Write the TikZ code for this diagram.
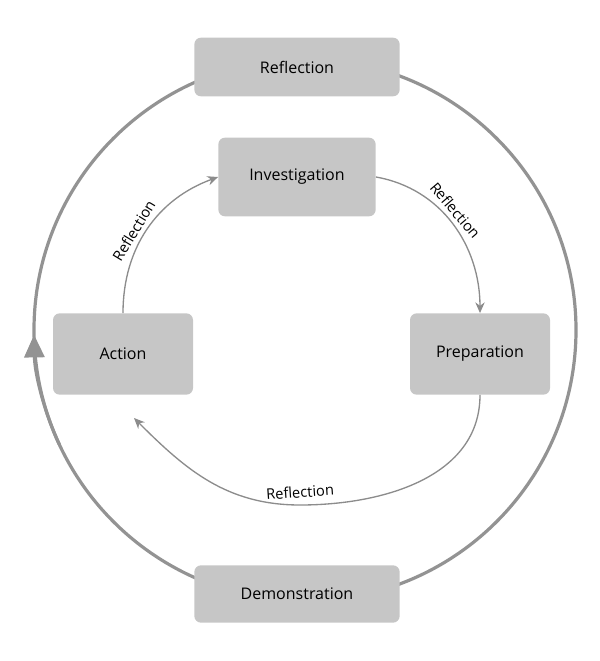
\documentclass[tikz,border=0pt]{standalone}
\usepackage{fontspec}
\setmainfont{Open Sans}
\usetikzlibrary{arrows.meta,calc}
\tikzset{>={Stealth[width=7pt,length=8pt]}}
\tikzset{
  stage/.style={draw=none, fill=gray!45, rounded corners=5pt, font=\fontsize{12}{14}\selectfont},
  outer/.style={draw=gray!85, line width=2.4pt},
  inner/.style={draw=gray!90, line width=1pt, ->},
  lbl/.style={font=\fontsize{11}{13}\selectfont}
}
\begin{document}
\begin{tikzpicture}[x=0.75pt,y=0.75pt]
  \useasboundingbox (0,0) rectangle (600,-661);

  \coordinate (ctr) at (305,-330);
  % outer cycle
  \draw[outer] (ctr) circle (271);
  \draw[outer, -{Triangle[width=15pt,length=17pt]}] ($(ctr)+(205:271)$) arc (205:181:271);

  \node[stage, minimum width=154pt, minimum height=44pt] (refl) at (297,-67) {Reflection};
  \node[stage, minimum width=154pt, minimum height=43pt] (demo) at (297,-594) {Demonstration};
  \node[stage, minimum width=118pt, minimum height=59pt] (inv) at (297,-177) {Investigation};
  \node[stage, minimum width=105pt, minimum height=61pt] (act) at (123,-354) {Action};
  \node[stage, minimum width=105pt, minimum height=61pt] (prep) at (480,-354) {Preparation};

  % inner cycle
  \draw[inner] (act.north) to[out=90, in=200] node[lbl, sloped, above, pos=0.45] {Reflection} (inv.west);
  \draw[inner] (inv.east) to[out=-10, in=90] node[lbl, sloped, above, pos=0.45] {Reflection} (prep.north);
  \draw[inner] (prep.south) to[out=-90, in=0] (300,-505)
    to[out=180, in=-45] (134,-418);
  \node[lbl, rotate=4] at (300,-492) {Reflection};
\end{tikzpicture}
\end{document}
